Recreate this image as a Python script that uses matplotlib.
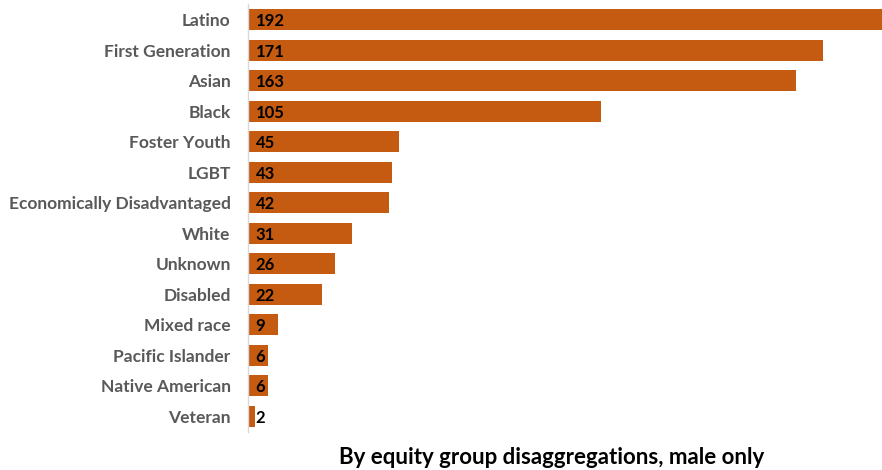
import matplotlib.pyplot as plt

# equity group data, male only
groups = ["Latino", "First Generation", "Asian", "Black", "Foster Youth", "LGBT",
          "Economically Disadvantaged", "White", "Unknown", "Disabled",
          "Mixed race", "Pacific Islander", "Native American", "Veteran"]
counts = [192, 171, 163, 105, 45, 43, 42, 31, 26, 22, 9, 6, 6, 2]

plt.rcParams['font.family'] = ['Lato', 'DejaVu Sans']

fig = plt.figure(figsize=(8.82, 4.70), dpi=100)
ax = fig.add_axes([248 / 882, 1 - 431.5 / 470, 1 - 248 / 882, 427 / 470])

y = list(range(len(groups)))
ax.barh(y, counts, height=0.69, color='#C55A11', edgecolor='none')
ax.set_ylim(len(groups) - 0.5, -0.5)
ax.set_xlim(0, 188.7)

ax.set_yticks(y)
ax.set_yticklabels(groups, fontsize=12.5, fontweight='bold', color='#595959')
ax.tick_params(axis='y', length=0, pad=12.5)
ax.set_xticks([])

for s in ['top', 'right', 'bottom']:
    ax.spines[s].set_visible(False)
ax.spines['left'].set_color('#D9D9D9')
ax.spines['left'].set_linewidth(1)

for yi, c in zip(y, counts):
    ax.text(2.3, yi, str(c), ha='left', va='center_baseline', fontsize=12,
            fontweight='bold', color='black')

fig.text(552 / 882, 1 - 458 / 470, "By equity group disaggregations, male only",
         ha='center', va='center', fontsize=16, fontweight='bold', color='black')

fig.savefig('out.png', dpi=100)
